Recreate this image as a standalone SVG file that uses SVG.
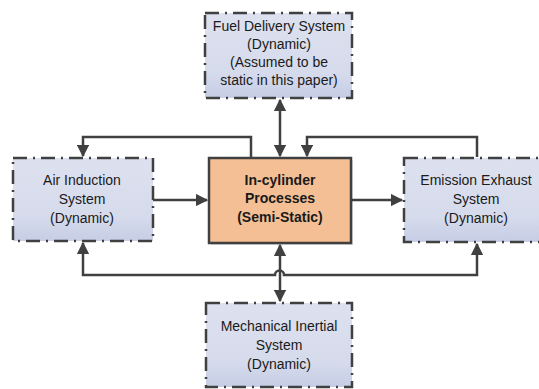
<svg xmlns="http://www.w3.org/2000/svg" width="539" height="389" viewBox="0 0 539 389">
<defs>
<linearGradient id="g" x1="0" y1="0" x2="0" y2="1">
<stop offset="0" stop-color="#DDE1EF"/>
<stop offset="0.7" stop-color="#D6DBEC"/>
<stop offset="1" stop-color="#C6CDE5"/>
</linearGradient>
<marker id="ah" viewBox="0 0 10 10" refX="9" refY="5" markerWidth="5" markerHeight="5" orient="auto-start-reverse" markerUnits="strokeWidth">
<path d="M0,0 L10,5 L0,10 z" fill="#404040"/>
</marker>
</defs>
<style>
.dyn{fill:url(#g);stroke:#404040;stroke-width:2.5;stroke-dasharray:14 6 2 6;}
.core{fill:#F4BF94;stroke:#404040;stroke-width:2.5;}
.t{font-family:"Liberation Sans",Arial,sans-serif;font-size:14px;fill:#1a1a1a;text-anchor:middle;}
.b{font-weight:bold;}
.c{fill:none;stroke:#404040;stroke-width:2.5;}
</style>
<rect width="539" height="389" fill="#ffffff"/>
<g id="connectors">
<path class="c" d="M280,100 V156" marker-start="url(#ah)" marker-end="url(#ah)"/>
<path class="c" d="M251,157 V137 H83 V156" marker-end="url(#ah)"/>
<path class="c" d="M477,157 V137 H307 V156" marker-end="url(#ah)"/>
<path class="c" d="M153,200 H207" marker-end="url(#ah)"/>
<path class="c" d="M351,200 H402" marker-end="url(#ah)"/>
<path class="c" d="M83,243 V275 H275 A4.5,4.5 0 0 1 284,275 H477 V244" marker-start="url(#ah)" marker-end="url(#ah)"/>
<path class="c" d="M280,245 V301" marker-start="url(#ah)" marker-end="url(#ah)"/>
</g>
<g id="fuel">
<rect class="dyn" x="205" y="13" width="147" height="85"/>
<text class="t" x="279" y="31">Fuel Delivery System</text>
<text class="t" x="279" y="49">(Dynamic)</text>
<text class="t" x="279" y="67">(Assumed to be</text>
<text class="t" x="279" y="85">static in this paper)</text>
</g>
<g id="air">
<rect class="dyn" x="13" y="158" width="140" height="83"/>
<text class="t" x="82" y="185">Air Induction</text>
<text class="t" x="82" y="204">System</text>
<text class="t" x="82" y="223">(Dynamic)</text>
</g>
<g id="incyl">
<rect x="211" y="160" width="142" height="85" fill="#000" opacity="0.12"/>
<rect class="core" x="209" y="158" width="142" height="85"/>
<text class="t b" x="280" y="185">In-cylinder</text>
<text class="t b" x="280" y="203">Processes</text>
<text class="t b" x="280" y="222">(Semi-Static)</text>
</g>
<g id="emission">
<rect class="dyn" x="404" y="158" width="144" height="84"/>
<text class="t" x="476" y="185">Emission Exhaust</text>
<text class="t" x="476" y="204">System</text>
<text class="t" x="476" y="223">(Dynamic)</text>
</g>
<g id="mech">
<rect class="dyn" x="206" y="303" width="146" height="84"/>
<text class="t" x="279" y="331">Mechanical Inertial</text>
<text class="t" x="279" y="350">System</text>
<text class="t" x="279" y="369">(Dynamic)</text>
</g>
</svg>
